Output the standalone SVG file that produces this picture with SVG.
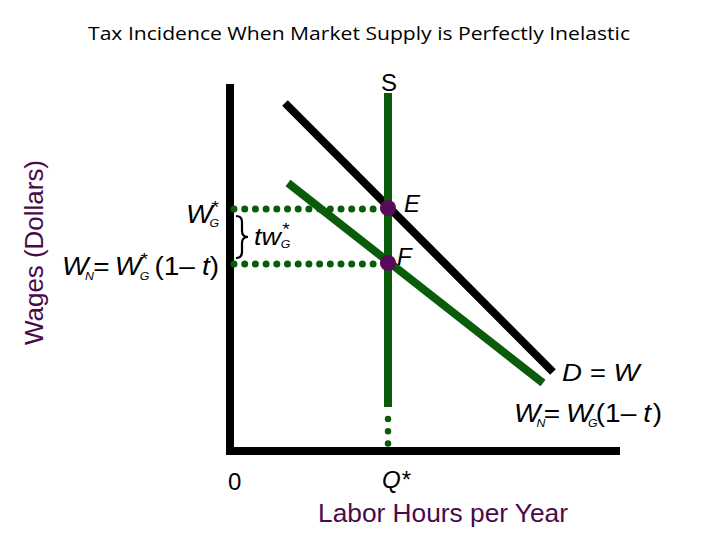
<svg xmlns="http://www.w3.org/2000/svg" width="720" height="540" viewBox="0 0 720 540">
<style>
.t{font-family:"Liberation Sans",Arial,sans-serif;fill:#000;font-size:25px}
.i{font-style:italic}
.p{fill:#4a0a4a}
.sub{font-size:11px}
.st{font-size:17px}
.ax{stroke:#000;stroke-width:8;fill:none}
.g{stroke:#0a5c0a;stroke-width:8;fill:none}
.dot{stroke:#0a5c0a;stroke-width:7;stroke-linecap:round;stroke-dasharray:0 10.7;fill:none}
.pt{fill:#5a0a5a}
</style>
<rect width="720" height="540" fill="#fff"/>
<text x="88" y="40" style="font-family:'Open Sans','Liberation Sans',sans-serif;font-size:19px" textLength="542" lengthAdjust="spacingAndGlyphs">Tax Incidence When Market Supply is Perfectly Inelastic</text>
<g id="axes">
<line class="ax" x1="230" y1="84" x2="230" y2="455"/>
<line class="ax" x1="226" y1="451" x2="620" y2="451"/>
</g>
<g id="connectors">
<line class="ax" x1="285" y1="103" x2="553" y2="372"/>
<line class="g" x1="288" y1="183" x2="543" y2="383"/>
<line class="g" x1="388" y1="93" x2="388" y2="407"/>
<line class="dot" x1="388" y1="419" x2="388" y2="445" style="stroke-dasharray:0 12.3;stroke-width:6.5"/>
<line class="dot" x1="234" y1="209" x2="384" y2="209"/>
<line class="dot" x1="234" y1="264" x2="384" y2="264"/>
<path d="M236,216 Q242,216 242,222 L242,231 Q242,237 248,237 Q242,237 242,243 L242,252 Q242,258 236,258" fill="none" stroke="#000" stroke-width="2.2"/>
</g>
<g id="E"><circle class="pt" cx="388" cy="208" r="8"/><text class="t i" x="404" y="212" style="font-size:24px">E</text></g>
<g id="F"><circle class="pt" cx="388" cy="263" r="8"/><text class="t i" x="397" y="265" style="font-size:24px">F</text></g>
<g id="S"><text class="t" x="381" y="91" style="font-size:24px">S</text></g>
<g id="labels">
<g transform="translate(186,223) scale(1.12,1)"><text class="t"><tspan class="i" x="0">W</tspan><tspan class="st i" x="22" dy="-10">*</tspan><tspan class="sub i" x="21" dy="14">G</tspan></text></g>
<g transform="translate(62,275) scale(1.12,1)"><text class="t"><tspan class="i" x="0">W</tspan><tspan class="sub i" x="20.5" dy="5">N</tspan><tspan x="28" dy="-5">=</tspan><tspan class="i" x="47">W</tspan><tspan class="st i" x="69.5" dy="-10">*</tspan><tspan class="sub i" x="69.5" dy="15">G</tspan><tspan x="82.5" dy="-5">(1–</tspan><tspan class="i" x="125">t</tspan><tspan x="132">)</tspan></text></g>
<g transform="translate(254,245) scale(1.12,1)"><text class="t i" style="font-size:24px"><tspan x="0">tw</tspan><tspan class="st" x="24.5" dy="-10">*</tspan><tspan class="sub" x="24" dy="13">G</tspan></text></g>
<g transform="translate(562,381) scale(1.15,1)"><text class="t i" style="font-size:24px">D = W</text></g>
<g transform="translate(514,422) scale(1.12,1)"><text class="t"><tspan class="i" x="0">W</tspan><tspan class="sub i" x="20" dy="5">N</tspan><tspan x="26.5" dy="-5">=</tspan><tspan class="i" x="46.5">W</tspan><tspan class="sub i" x="66" dy="5">G</tspan><tspan x="73" dy="-5">(1–</tspan><tspan class="i" x="115.5">t</tspan><tspan x="124">)</tspan></text></g>
<text class="t" x="228" y="490" style="font-size:24px">0</text>
<text class="t i" x="382" y="488" style="font-size:24px">Q*</text>
<text class="t p" x="318" y="522" textLength="250" lengthAdjust="spacingAndGlyphs">Labor Hours per Year</text>
<text class="t p" transform="translate(43,345) rotate(-90)" textLength="185" lengthAdjust="spacingAndGlyphs">Wages (Dollars)</text>
</g>
</svg>
